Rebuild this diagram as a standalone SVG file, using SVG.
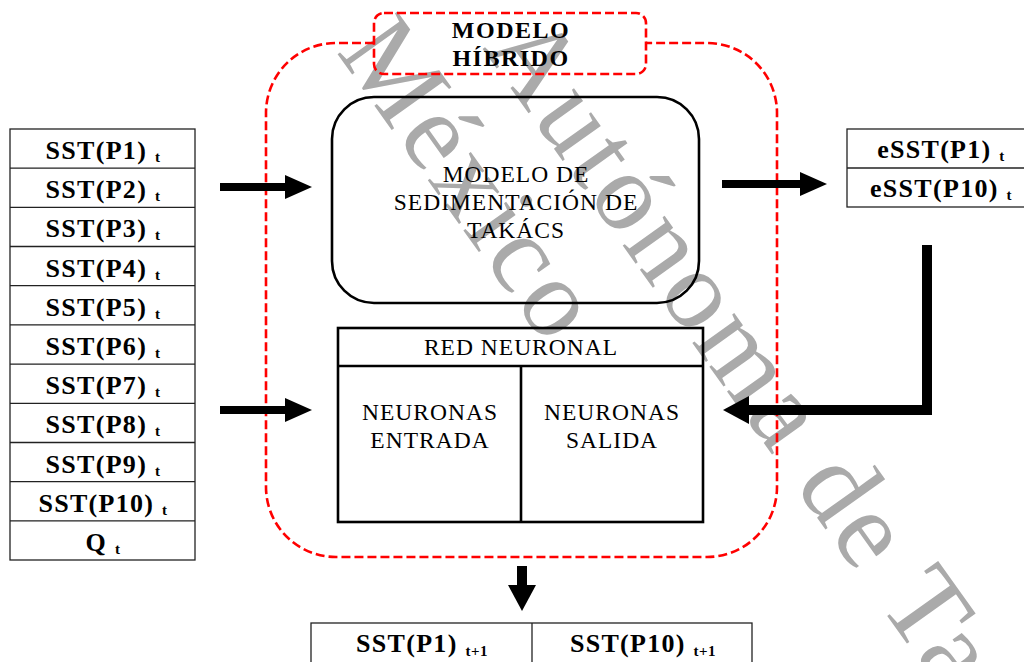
<svg xmlns="http://www.w3.org/2000/svg" width="1024" height="662" viewBox="0 0 1024 662">
<style>
.wm{font-family:"Liberation Serif",serif;font-size:112px;fill:#aaaaaa;letter-spacing:4px}
.cell{fill:#fff;stroke:#222;stroke-width:1.3}
.ln{stroke:#222;stroke-width:1.3}
.b{font-family:"Liberation Serif",serif;font-weight:bold;font-size:26px;letter-spacing:1.3px;fill:#000;text-anchor:middle}
.sub{font-size:15px;letter-spacing:0.5px}
.t{font-size:24px;letter-spacing:1.5px}
.n{font-family:"Liberation Serif",serif;font-size:23.5px;letter-spacing:1px;fill:#000;text-anchor:middle}
.red{fill:none;stroke:#ff0000;stroke-width:2.6;stroke-dasharray:9 4}
.box{fill:none;stroke:#000;stroke-width:2.6}
.conn{fill:none;stroke:#000}
</style>
<defs>
<marker id="ah" markerUnits="userSpaceOnUse" viewBox="0 0 27 24" markerWidth="27" markerHeight="24" refX="0" refY="12" orient="auto"><path d="M0,0 L27,12 L0,24 z" fill="#000"/></marker>
<marker id="ah2" markerUnits="userSpaceOnUse" viewBox="0 0 26 28" markerWidth="26" markerHeight="28" refX="0" refY="14" orient="auto"><path d="M0,0 L26,14 L0,28 z" fill="#000"/></marker>
</defs>
<rect width="1024" height="662" fill="#fff"/>
<g id="watermark" transform="translate(482,48) rotate(54.5)">
<text class="wm" x="0" y="0">Autónoma de Ta</text>
<text class="wm" x="-82" y="121">México</text>
</g>
<g id="hybrid">
<path class="red" d="M374,43 H336 A70,70 0 0 0 266,113 V487 A70,70 0 0 0 336,557 H707 A70,70 0 0 0 777,487 V113 A70,70 0 0 0 707,43 H646"/>
<rect class="red" x="374" y="13" width="272" height="61" rx="10"/>
<text class="b t" x="511" y="38">MODELO</text>
<text class="b t" x="511" y="66">HÍBRIDO</text>
</g>
<g id="takacs">
<rect class="box" x="332" y="97" width="367" height="206" rx="42"/>
<text class="n" x="516" y="182">MODELO DE</text>
<text class="n" x="516" y="210">SEDIMENTACIÓN DE</text>
<text class="n" x="516" y="238">TAKÁCS</text>
</g>
<g id="red-neuronal">
<rect class="box" x="338" y="328" width="365" height="194"/>
<line class="box" x1="338" y1="366" x2="703" y2="366"/>
<line class="box" x1="521" y1="366" x2="521" y2="522"/>
<text class="n" x="521" y="355">RED NEURONAL</text>
<text class="n" x="430" y="420">NEURONAS</text>
<text class="n" x="430" y="448">ENTRADA</text>
<text class="n" x="612" y="420">NEURONAS</text>
<text class="n" x="612" y="448">SALIDA</text>
</g>
<g id="inputs">
<rect class="cell" x="10" y="129" width="185" height="431"/>
<path class="ln" d="M10,168.2H195 M10,207.4H195 M10,246.5H195 M10,285.7H195 M10,324.9H195 M10,364.1H195 M10,403.3H195 M10,442.5H195 M10,481.6H195 M10,520.8H195"/>
<text class="b" x="103" y="159">SST(P1) <tspan class="sub" dy="3">t</tspan></text>
<text class="b" x="103" y="198.2">SST(P2) <tspan class="sub" dy="3">t</tspan></text>
<text class="b" x="103" y="237.4">SST(P3) <tspan class="sub" dy="3">t</tspan></text>
<text class="b" x="103" y="276.5">SST(P4) <tspan class="sub" dy="3">t</tspan></text>
<text class="b" x="103" y="315.7">SST(P5) <tspan class="sub" dy="3">t</tspan></text>
<text class="b" x="103" y="354.9">SST(P6) <tspan class="sub" dy="3">t</tspan></text>
<text class="b" x="103" y="394.1">SST(P7) <tspan class="sub" dy="3">t</tspan></text>
<text class="b" x="103" y="433.3">SST(P8) <tspan class="sub" dy="3">t</tspan></text>
<text class="b" x="103" y="472.5">SST(P9) <tspan class="sub" dy="3">t</tspan></text>
<text class="b" x="103" y="511.6">SST(P10) <tspan class="sub" dy="3">t</tspan></text>
<text class="b" x="103" y="550.8">Q <tspan class="sub" dy="3">t</tspan></text>
</g>
<g id="estimates">
<rect class="cell" x="847" y="129" width="190" height="78"/>
<line class="ln" x1="847" y1="168" x2="1037" y2="168"/>
<text class="b" x="941" y="158">eSST(P1) <tspan class="sub" dy="3">t</tspan></text>
<text class="b" x="941" y="197">eSST(P10) <tspan class="sub" dy="3">t</tspan></text>
</g>
<g id="outputs">
<rect class="cell" x="311" y="623" width="441" height="60"/>
<line class="ln" x1="532" y1="623" x2="532" y2="662"/>
<text class="b" x="422" y="652">SST(P1) <tspan class="sub" dy="4">t+1</tspan></text>
<text class="b" x="643" y="652">SST(P10) <tspan class="sub" dy="4">t+1</tspan></text>
</g>
<g id="connectors">
<line class="conn" x1="220" y1="187" x2="285" y2="187" stroke-width="8" marker-end="url(#ah)"/>
<line class="conn" x1="220" y1="410" x2="285" y2="410" stroke-width="8" marker-end="url(#ah)"/>
<line class="conn" x1="722" y1="184" x2="800" y2="184" stroke-width="8" marker-end="url(#ah)"/>
<path class="conn" d="M927,245 V410 H749" stroke-width="10" stroke-linejoin="miter" marker-end="url(#ah2)"/>
<line class="conn" x1="522" y1="566" x2="522" y2="585" stroke-width="10" marker-end="url(#ah2)"/>
</g>
</svg>
